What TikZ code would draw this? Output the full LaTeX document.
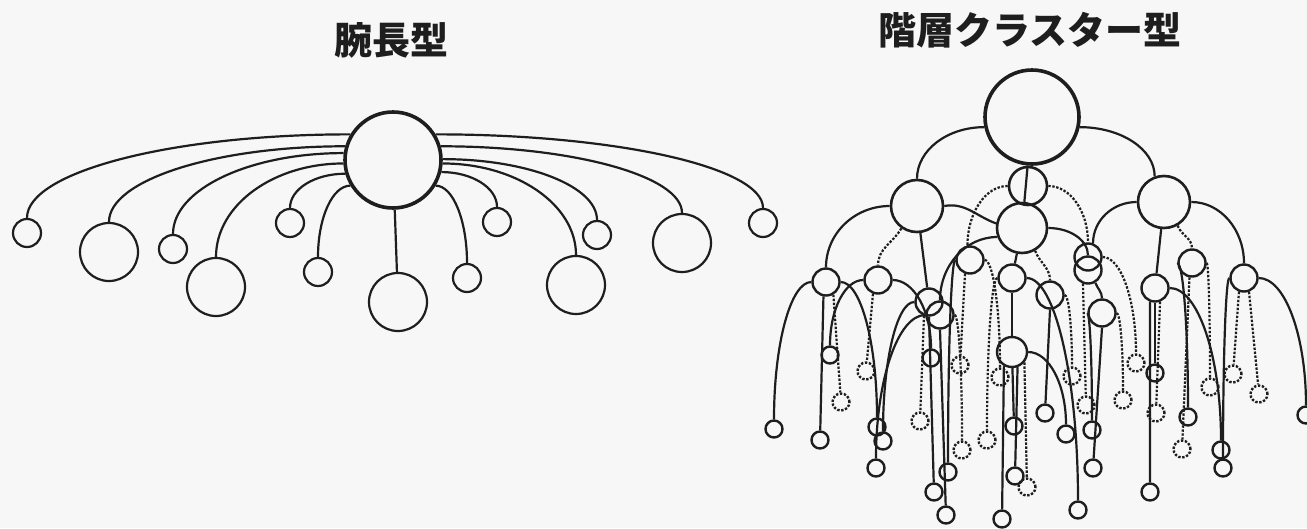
\documentclass[tikz,border=0pt]{standalone}
\usepackage{fontspec}
\newfontfamily\cjk{Noto Sans CJK JP}
\usepackage{tikz}
\usetikzlibrary{positioning,calc}
\definecolor{paper}{HTML}{F7F7F7}
\definecolor{ink}{HTML}{1E1E1E}
\tikzset{
	hub/.style={circle, draw, inner sep=0pt, line width=3.6pt, minimum size=96pt},
	small/.style={circle, draw, inner sep=0pt, minimum size=28pt},
	large/.style={circle, draw, inner sep=0pt, minimum size=58pt},
	branch/.style={circle, draw, inner sep=0pt, line width=2.6pt, minimum size=50pt},
	twig/.style={circle, draw, inner sep=0pt, line width=2.4pt, minimum size=27pt},
	leaf/.style={circle, draw, inner sep=0pt, line width=2.4pt, minimum size=17pt},
	dotline/.style={dash pattern=on 2.4pt off 1.6pt},
	% quarter ellipse: leaves sideways, lands from above
	arm/.style={to path={(\tikztostart) .. controls ($(\tikztostart)!0.552!(\tikztotarget |- \tikztostart)$)
		and ($(\tikztotarget)!0.552!(\tikztotarget |- \tikztostart)$) .. (\tikztotarget)}},
	title/.style={font=\cjk\bfseries\fontsize{38}{38}\selectfont, inner sep=0pt},
}
\begin{document}
\begin{tikzpicture}[x=1pt, y=-1pt, line width=2.2pt, ink]
	\fill[paper] (0,0) rectangle (1307,528);
	\useasboundingbox (0,0) rectangle (1307,528);

	% titles
	\node[title] (tleft) at (391,40) {腕長型};
	\node[title] (tright) at (1030,30) {階層クラスター型};

	% arm-length type
	\node[hub] (hub) at (393,160) {};
	\node[small] (l1) at (27,233) {};
	\node[large] (l2) at (109,252) {};
	\node[small] (l3) at (173,249) {};
	\node[large] (l4) at (216,287) {};
	\node[small] (l5) at (290,223) {};
	\node[small] (l6) at (318,272) {};
	\node[large] (l7) at (398,302) {};
	\node[small] (r1) at (497,222) {};
	\node[small] (r2) at (467,278) {};
	\node[large] (r3) at (576,285) {};
	\node[small] (r4) at (597,235) {};
	\node[large] (r5) at (682,243) {};
	\node[small] (r6) at (763,223) {};

	\draw (hub.149) to[arm] (l1.north);
	\draw (hub.164) to[arm] (l2.north);
	\draw (hub.172) to[arm] (l3.north);
	\draw (hub.184) to[arm] (l4.north);
	\draw (hub.196) to[arm] (l5.north);
	\draw (hub.211) to[arm] (l6.north);
	\draw (hub) -- (l7);
	\draw (hub.31) to[arm] (r6.north);
	\draw (hub.16) to[arm] (r5.north);
	\draw (hub.1) to[arm] (r4.north);
	\draw (hub.-4) to[arm] (r3.north);
	\draw (hub.-14) to[arm] (r1.north);
	\draw (hub.-31) to[arm] (r2.north);

	% hierarchical cluster type
	\node[hub, minimum size=94pt] (root) at (1032,117) {};
	\node[branch, minimum size=52pt] (A) at (917,206) {};
	\node[branch, minimum size=52pt] (B) at (1164,202) {};
	\node[branch, minimum size=38pt] (M1) at (1028,186) {};
	\node[branch] (M2) at (1022,228) {};

	\node[twig] (a1) at (826,282) {};
	\node[twig] (a2) at (878,280) {};
	\node[twig] (a3) at (929,302) {};
	\node[twig] (a4) at (940,315) {};
	\node[twig] (c1) at (970,260) {};
	\node[twig] (c2) at (1088,257) {};
	\node[twig] (c3) at (1088,270) {};
	\node[twig] (c4) at (1012,278) {};
	\node[twig] (c5) at (1050,295) {};
	\node[twig] (c6) at (1102,313) {};
	\node[twig, minimum size=30pt] (c7) at (1012,352) {};
	\node[twig] (b1) at (1192,263) {};
	\node[twig] (b2) at (1155,288) {};
	\node[twig] (b3) at (1244,278) {};

	\draw (root.192) to[arm] (A.north);
	\draw (root.348) to[arm] (B.110);
	\draw (root) -- (M2);
	\draw[dotline] (M1.west) to[arm] (c1.100);
	\draw[dotline] (M1.east) to[arm] (c2.north);
	\draw (B.west) to[arm] (c2.70);
	\draw (M2.east) to[arm] (c3.north);
	\draw (A.east) to[out=10, in=160] (M2.170);
	\draw (M2) -- (c4);
	\draw (c4) -- (c7);
	\draw[dotline] (M2.300) to[out=290, in=90] (c5);
	\draw (M2.200) to[arm] (a4.north);
	\draw (A) -- (a3);
	\draw (A.west) to[arm] (a1.north);
	\draw[dotline] (A.235) to[out=240, in=90] (a2);
	\draw (c3.300) to[out=290, in=90] (c6);
	\draw (B) -- (b2);
	\draw[dotline] (B.300) to[out=290, in=90] (b1);
	\draw (B.east) to[arm] (b3.north);

	% leaves
	\node[leaf] (L1) at (774,429) {};
	\node[leaf] (L2) at (820,440) {};
	\node[leaf] (L3) at (830,355) {};
	\node[leaf, dotline] (L4) at (841,402) {};
	\node[leaf, dotline] (L5) at (866,371) {};
	\node[leaf] (L6) at (877,427) {};
	\node[leaf] (L7) at (883,441) {};
	\node[leaf] (L8) at (876,468) {};
	\node[leaf, dotline] (L9) at (920,421) {};
	\node[leaf] (L10) at (931,358) {};
	\node[leaf] (L11) at (934,492) {};
	\node[leaf] (L12) at (948,472) {};
	\node[leaf] (L13) at (946,515) {};
	\node[leaf, dotline] (L14) at (960,365) {};
	\node[leaf, dotline] (L15) at (1000,377) {};
	\node[leaf, dotline] (L16) at (987,440) {};
	\node[leaf, dotline] (L17) at (962,450) {};
	\node[leaf] (L18) at (1002,519) {};
	\node[leaf] (L19) at (1014,426) {};
	\node[leaf] (L20) at (1015,476) {};
	\node[leaf, dotline] (L21) at (1027,487) {};
	\node[leaf] (L22) at (1045,413) {};
	\node[leaf] (L23) at (1066,434) {};
	\node[leaf] (L24) at (1078,510) {};
	\node[leaf, dotline] (L25) at (1072,376) {};
	\node[leaf, dotline] (L26) at (1086,405) {};
	\node[leaf] (L27) at (1092,430) {};
	\node[leaf] (L28) at (1093,468) {};
	\node[leaf, dotline] (L29) at (1123,400) {};
	\node[leaf, dotline] (L30) at (1136,363) {};
	\node[leaf] (L31) at (1155,373) {};
	\node[leaf, dotline] (L32) at (1156,413) {};
	\node[leaf] (L33) at (1150,492) {};
	\node[leaf] (L34) at (1188,417) {};
	\node[leaf, dotline] (L35) at (1182,449) {};
	\node[leaf, dotline] (L36) at (1210,387) {};
	\node[leaf, dotline] (L37) at (1233,374) {};
	\node[leaf] (L38) at (1221,450) {};
	\node[leaf] (L39) at (1223,468) {};
	\node[leaf, dotline] (L40) at (1259,394) {};
	\node[leaf] (L41) at (1306,415) {};

	\draw (a1.west) to[arm] (L1.north);
	\draw (a1.260) -- (L2);
	\draw (a2.west) to[arm] (L3.north);
	\draw[dotline] (a1.300) -- (L4);
	\draw[dotline] (a2.250) -- (L5);
	\draw (a1.east) to[arm] (L6.north);
	\draw (a3.west) to[arm] (L7.north);
	\draw (a4.west) to[arm] (L8.north);
	\draw[dotline] (a3.250) -- (L9);
	\draw (a2.east) to[arm] (L10.north);
	\draw (a3.south) -- (L11);
	\draw (c1.west) to[arm] (L12.north);
	\draw (a4.south) -- (L13);
	\draw[dotline] (c1.250) -- (L14);
	\draw[dotline] (c1.east) to[arm] (L15.north);
	\draw[dotline] (c4.west) to[arm] (L16.north);
	\draw[dotline] (a4.east) to[arm] (L17.north);
	\draw (c7.240) -- (L18);
	\draw (c7) -- (L19);
	\draw (c7.290) -- (L20);
	\draw[dotline] (c7.320) -- (L21);
	\draw (c5.south) -- (L22);
	\draw (c7.east) to[arm] (L23.north);
	\draw (c4.east) to[arm] (L24.north);
	\draw[dotline] (c5.east) to[arm] (L25.north);
	\draw[dotline] (c3.250) -- (L26);
	\draw (c6.west) to[arm] (L27.north);
	\draw (c6.south) -- (L28);
	\draw[dotline] (c6.east) to[arm] (L29.north);
	\draw[dotline] (c2.east) to[arm] (L30.north);
	\draw (b2) -- (L31);
	\draw[dotline] (b2.290) -- (L32);
	\draw (b2.250) -- (L33);
	\draw (b1.west) to[arm] (L34.north);
	\draw[dotline] (b1.260) -- (L35);
	\draw[dotline] (b1.east) to[arm] (L36.north);
	\draw[dotline] (b3.250) -- (L37);
	\draw (b2.east) to[arm] (L38.north);
	\draw (b3.west) to[arm] (L39.north);
	\draw[dotline] (b3.290) -- (L40);
	\draw (b3.east) to[arm] (L41.north);
\end{tikzpicture}
\end{document}
